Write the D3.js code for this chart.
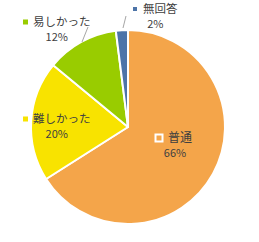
<!DOCTYPE html>
<html>
<head>
<meta charset="utf-8">
<script src="https://cdn.jsdelivr.net/npm/d3@7"></script>
<style>
  body { margin: 0; background: #fff; }
  text { font-family: "Noto Sans CJK JP", "Noto Sans", sans-serif; }
</style>
</head>
<body>
<div id="chart"></div>
<script>
// data
var categories = ["普通", "難しかった", "易しかった", "無回答"];
var values = [66, 20, 12, 2];
var pctLabels = ["66%", "20%", "12%", "2%"];
var colors = ["#F4A54A", "#F8E300", "#99CC00", "#4D74A8"];

var width = 259, height = 242;
var cx = 128, cy = 127, radius = 97;

var svg = d3.select("#chart").append("svg")
  .attr("width", width)
  .attr("height", height);

var data = categories.map(function(c, i) {
  return { name: c, value: values[i], pct: pctLabels[i], color: colors[i] };
});

var pie = d3.pie().sort(null).value(function(d) { return d.value; });
var arc = d3.arc().innerRadius(0).outerRadius(radius);
var arcs = pie(data);

var g = svg.append("g").attr("transform", "translate(" + cx + "," + cy + ")");

g.selectAll("path")
  .data(arcs)
  .enter().append("path")
    .attr("d", arc)
    .attr("fill", function(d) { return d.data.color; })
    .attr("stroke", "#fff")
    .attr("stroke-width", 2)
    .attr("stroke-linejoin", "round");

// label positions (relative to centre)
var labelPos = [
  { x: 40, y: 11 },
  { x: -95, y: -8 },
  { x: -95, y: -105 },
  { x: 15, y: -118 }
];

// leader lines for the outside labels
var leaders = [
  null, null,
  [[-46, -85], [-40, -100]],
  [[-5, -99], [-2, -111]]
];

leaders.forEach(function(l) {
  if (!l) return;
  g.append("line")
    .attr("x1", l[0][0]).attr("y1", l[0][1])
    .attr("x2", l[1][0]).attr("y2", l[1][1])
    .attr("stroke", "#A6A6A6")
    .attr("stroke-width", 1);
});

arcs.forEach(function(d, i) {
  var p = labelPos[i];
  var lg = g.append("g").attr("transform", "translate(" + p.x + "," + p.y + ")");
  var nameText = lg.append("text")
    .attr("x", 0).attr("y", 0)
    .attr("dy", "0.35em")
    .attr("font-size", i === 0 ? 12 : 11.5)
    .attr("fill", "#404040")
    .text(d.data.name);
  var w = nameText.node().getComputedTextLength();
  if (i === 0) {
    lg.append("rect")
      .attr("x", -12.5).attr("y", -3.5)
      .attr("width", 7).attr("height", 7)
      .attr("fill", "none")
      .attr("stroke", "#fff")
      .attr("stroke-width", 2);
  } else {
    var s = i === 3 ? 4 : 5;
    lg.append("rect")
      .attr("x", -10).attr("y", -s / 2)
      .attr("width", s).attr("height", s)
      .attr("fill", d.data.color);
  }
  lg.append("text")
    .attr("x", (w - 10) / 2)
    .attr("y", 15)
    .attr("dy", "0.35em")
    .attr("text-anchor", "middle")
    .attr("font-size", 11)
    .attr("fill", "#404040")
    .text(d.data.pct);
});
</script>
</body>
</html>
